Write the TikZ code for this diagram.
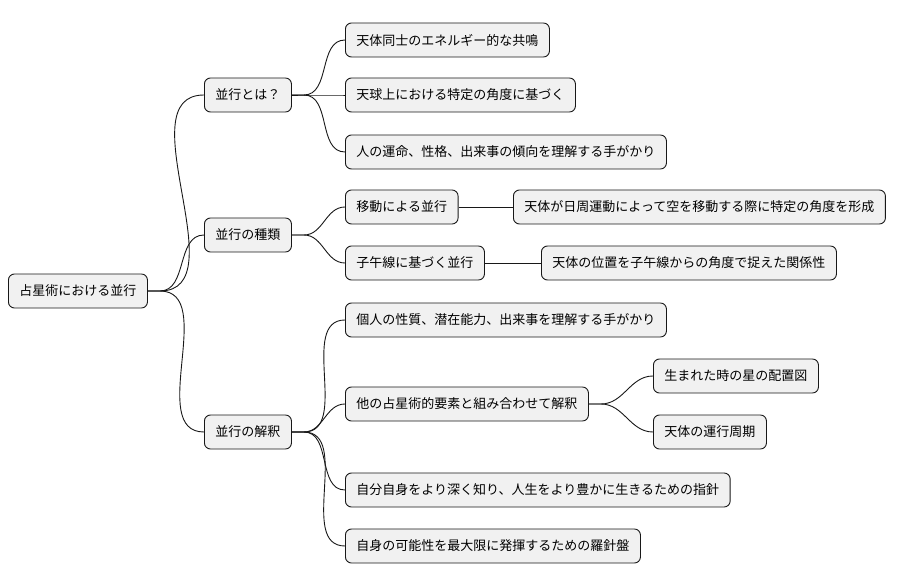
\documentclass[tikz,border=0pt]{standalone}
\usepackage{fontspec}
\setmainfont{Noto Sans CJK JP}
\definecolor{boxfill}{HTML}{F1F1F1}
\definecolor{boxline}{HTML}{181818}
\tikzset{
  topic/.style={draw=boxline,fill=boxfill,rounded corners=6pt,line width=0.9pt,
    anchor=west,minimum height=34pt,inner xsep=11pt,font=\fontsize{13}{15}\selectfont},
  branch/.style={draw=boxline,line width=0.9pt}
}
\newcommand\link[2]{\draw[branch] (#1.east) -- ++(12pt,0) to[out=0,in=180] (#2.west);}

\begin{document}
\begin{tikzpicture}[x=1pt,y=-1pt]
  \useasboundingbox (0,0) rectangle (922,583);

  \node[topic] (root) at (8,291) {占星術における並行};

  \node[topic] (def) at (204,95) {並行とは？};
  \node[topic] (kind) at (204,235) {並行の種類};
  \node[topic] (interp) at (204,432) {並行の解釈};

  \node[topic] (defa) at (345,40) {天体同士のエネルギー的な共鳴};
  \node[topic] (defb) at (345,95) {天球上における特定の角度に基づく};
  \node[topic] (defc) at (345,152) {人の運命、性格、出来事の傾向を理解する手がかり};

  \node[topic] (move) at (345,207) {移動による並行};
  \node[topic] (movea) at (513,207) {天体が日周運動によって空を移動する際に特定の角度を形成};
  \node[topic] (mer) at (345,263) {子午線に基づく並行};
  \node[topic] (mera) at (541,263) {天体の位置を子午線からの角度で捉えた関係性};

  \node[topic] (inta) at (345,320) {個人の性質、潜在能力、出来事を理解する手がかり};
  \node[topic] (intb) at (345,404) {他の占星術的要素と組み合わせて解釈};
  \node[topic] (chart) at (653,376) {生まれた時の星の配置図};
  \node[topic] (cycle) at (653,432) {天体の運行周期};
  \node[topic] (intc) at (345,490) {自分自身をより深く知り、人生をより豊かに生きるための指針};
  \node[topic] (intd) at (345,546) {自身の可能性を最大限に発揮するための羅針盤};

  % connectors
  \link{root}{def} \link{root}{kind} \link{root}{interp}
  \link{def}{defa} \link{def}{defb} \link{def}{defc}
  \link{kind}{move} \link{kind}{mer}
  \draw[branch] (move) -- (movea);
  \draw[branch] (mer) -- (mera);
  \link{interp}{inta} \link{interp}{intb} \link{interp}{intc} \link{interp}{intd}
  \link{intb}{chart} \link{intb}{cycle}
\end{tikzpicture}
\end{document}
